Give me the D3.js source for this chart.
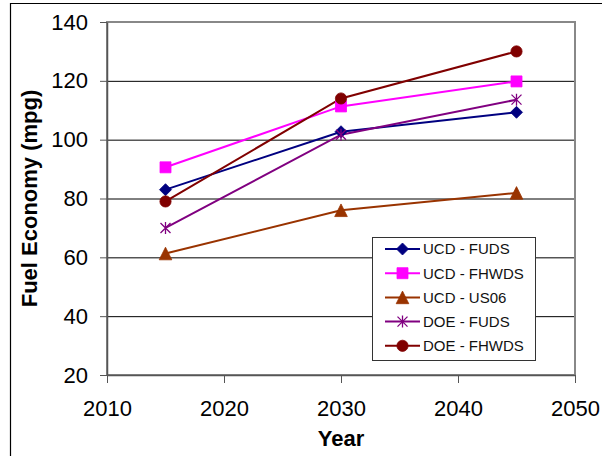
<!DOCTYPE html>
<html><head><meta charset="utf-8">
<script src="https://cdn.jsdelivr.net/npm/d3@7"></script>
<style>body{margin:0;background:#fff}svg{display:block;font-family:Arial,"Liberation Sans",sans-serif}</style>
</head><body><svg id="c" width="602" height="456"></svg>
<script>
const years=[2015,2030,2045];
const seriesNames=["UCD - FUDS","UCD - FHWDS","UCD - US06","DOE - FUDS","DOE - FHWDS"];
const ucdFuds=[83,102.7,109.3];
const ucdFhwds=[90.6,111.3,119.8];
const ucdUs06=[61.3,76,81.9];
const doeFuds=[70,101.7,113.6];
const doeFhwds=[79,114,130];
const seriesColors=["#000080","#FF00FF","#993300","#800080","#800000"];
const seriesMarkers=["diamond","square","triangle","star","circle"];
const xTicks=[2010,2020,2030,2040,2050];
const yTicks=[20,40,60,80,100,120,140];
const xTitle="Year", yTitle="Fuel Economy (mpg)";

const seriesValues=[ucdFuds,ucdFhwds,ucdUs06,doeFuds,doeFhwds];
const series=seriesNames.map((n,i)=>({name:n,color:seriesColors[i],marker:seriesMarkers[i],
  pts:years.map((y,j)=>({x:y,v:seriesValues[i][j]}))}));

const svg=d3.select("#c");
const L=107,R=575,T=22,B=375;
const x=d3.scaleLinear().domain([2010,2050]).range([L,R]);
const y=d3.scaleLinear().domain([20,140]).range([B,T]);

// outer frame
svg.append("path").attr("d","M10.5,456V3.5H602").attr("fill","none").attr("stroke","#000").attr("stroke-width",1.2);

// gridlines
svg.append("g").attr("transform",`translate(${L},0)`)
  .call(d3.axisLeft(y).tickValues(yTicks).tickSize(-(R-L)).tickFormat(""))
  .call(g=>g.select(".domain").remove())
  .call(g=>g.selectAll("line").attr("stroke","#000").attr("stroke-width",1));

// plot border (gray)
svg.append("rect").attr("x",L).attr("y",T).attr("width",R-L).attr("height",B-T)
  .attr("fill","none").attr("stroke","#888").attr("stroke-width",2);

// y axis
const ya=svg.append("g").attr("transform",`translate(${L},0)`)
  .call(d3.axisLeft(y).tickValues(yTicks).tickSize(7).tickSizeOuter(0).tickPadding(12));
ya.select(".domain").attr("stroke","#555").attr("stroke-width",1.5);
ya.selectAll(".tick line").attr("stroke","#555");
ya.selectAll("text").attr("font-size",22).attr("fill","#000").attr("font-family","Arial, Liberation Sans, sans-serif");

// x axis
const xa=svg.append("g").attr("transform",`translate(0,${B})`)
  .call(d3.axisBottom(x).tickValues(xTicks).tickFormat(d3.format("d")).tickSize(8).tickSizeOuter(0).tickPadding(17));
xa.select(".domain").attr("stroke","#555").attr("stroke-width",1.5);
xa.selectAll(".tick line").attr("stroke","#555");
xa.selectAll("text").attr("font-size",22).attr("fill","#000").attr("font-family","Arial, Liberation Sans, sans-serif");

// titles
svg.append("text").attr("x",(L+R)/2).attr("y",446).attr("text-anchor","middle")
  .attr("font-size",22).attr("font-weight","bold").text(xTitle);
svg.append("text").attr("transform",`translate(37,${(T+B)/2}) rotate(-90)`).attr("text-anchor","middle")
  .attr("font-size",22).attr("font-weight","bold").text(yTitle);

function markerPath(t){
  if(t==="diamond")return "M0,-6L6,0L0,6L-6,0Z";
  if(t==="square")return "M-5.5,-5.5H5.5V5.5H-5.5Z";
  if(t==="triangle")return "M0,-6.3L6.3,6.3H-6.3Z";
  if(t==="circle")return d3.symbol(d3.symbolCircle,Math.PI*5.6*5.6)();
  if(t==="star")return "M-5,-5L5,5M-5,5L5,-5M0,-6V6";
}
function drawMarker(g,t,color){
  const p=g.append("path").attr("d",markerPath(t));
  if(t==="star")p.attr("fill","none").attr("stroke",color).attr("stroke-width",1.3);
  else p.attr("fill",color).attr("stroke",color).attr("stroke-width",0.8);
}

const line=d3.line().x(d=>x(d.x)).y(d=>y(d.v));
series.forEach(s=>{
  svg.append("path").datum(s.pts).attr("d",line).attr("fill","none")
    .attr("stroke",s.color).attr("stroke-width",2);
});
series.forEach(s=>{
  s.pts.forEach(p=>{
    const g=svg.append("g").attr("transform",`translate(${x(p.x)},${y(p.v)})`);
    drawMarker(g,s.marker,s.color);
  });
});

// legend
const lg=svg.append("g");
lg.append("rect").attr("x",372.5).attr("y",237.5).attr("width",163).attr("height",123)
  .attr("fill","#fff").attr("stroke","#333").attr("stroke-width",1);
series.forEach((s,i)=>{
  const yy=249+i*24.2;
  lg.append("line").attr("x1",385).attr("x2",420).attr("y1",yy).attr("y2",yy)
    .attr("stroke",s.color).attr("stroke-width",2);
  const g=lg.append("g").attr("transform",`translate(402.5,${yy})`);
  drawMarker(g,s.marker,s.color);
  lg.append("text").attr("x",423).attr("y",yy+5.3).attr("font-size",15).attr("fill","#111").text(s.name);
});
</script></body></html>
